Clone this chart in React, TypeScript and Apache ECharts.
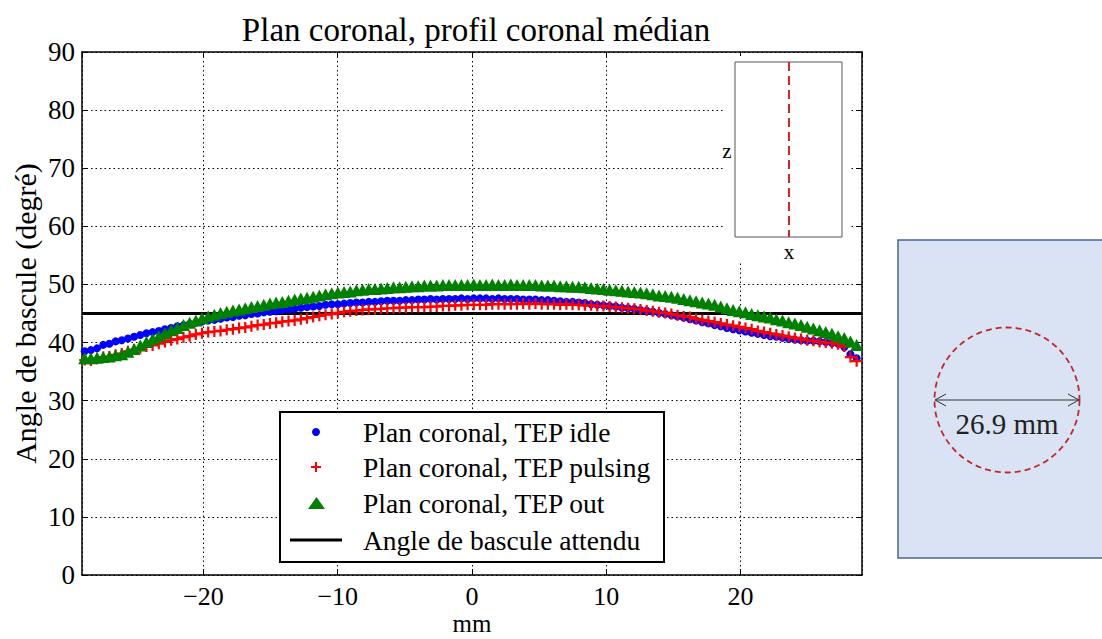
import React, { useEffect, useRef } from 'react';
import * as echarts from 'echarts';

const FONT = 'Liberation Serif, DejaVu Serif, serif';

// sample grid of the coronal profile (mm)
const sampleStart = -28.85;
const sampleStep = 0.46;

// flip angle (degrees)
const idle = [
  38.5, 38.7, 39.0, 39.6, 39.8,
  40.2, 40.4, 40.7, 41.0, 41.3,
  41.6, 41.8, 42.0, 42.3, 42.5,
  42.8, 43.0, 43.2, 43.4, 43.6,
  43.8, 43.9, 44.1, 44.3, 44.4,
  44.6, 44.7, 44.9, 45.0, 45.2,
  45.3, 45.4, 45.6, 45.7, 45.8,
  46.0, 46.1, 46.2, 46.3, 46.5,
  46.6, 46.6, 46.7, 46.8, 46.9,
  46.9, 47.0, 47.0, 47.1, 47.2,
  47.2, 47.2, 47.3, 47.3, 47.4,
  47.4, 47.5, 47.4, 47.5, 47.5,
  47.5, 47.6, 47.5, 47.6, 47.6,
  47.6, 47.5, 47.6, 47.5, 47.5,
  47.5, 47.4, 47.4, 47.4, 47.3,
  47.3, 47.2, 47.1, 47.0, 47.0,
  46.9, 46.8, 46.6, 46.5, 46.4,
  46.3, 46.2, 46.0, 45.9, 45.8,
  45.6, 45.5, 45.3, 45.1, 44.9,
  44.7, 44.5, 44.3, 44.0, 43.8,
  43.5, 43.3, 43.0, 42.8, 42.5,
  42.3, 42.1, 41.9, 41.7, 41.5,
  41.3, 41.1, 41.0, 40.8, 40.6,
  40.5, 40.4, 40.3, 40.3, 40.2,
  40.1, 39.9, 39.8, 39.2, 38.0, 37.3,
];

const pulsing = [
  37.0, 36.9, 37.2, 37.5, 37.6,
  37.9, 38.1, 38.5, 38.8, 39.0,
  39.3, 39.5, 39.8, 40.1, 40.4,
  40.6, 40.9, 41.1, 41.4, 41.6,
  41.8, 41.9, 42.0, 42.2, 42.3,
  42.5, 42.6, 42.8, 43.0, 43.1,
  43.3, 43.4, 43.6, 43.7, 43.8,
  44.0, 44.2, 44.4, 44.6, 44.8,
  44.9, 45.1, 45.3, 45.4, 45.5,
  45.6, 45.7, 45.7, 45.8, 45.9,
  45.9, 46.0, 46.0, 46.1, 46.1,
  46.1, 46.2, 46.2, 46.3, 46.3,
  46.4, 46.4, 46.5, 46.5, 46.5,
  46.5, 46.6, 46.6, 46.6, 46.6,
  46.6, 46.7, 46.6, 46.7, 46.6,
  46.6, 46.6, 46.5, 46.6, 46.5,
  46.5, 46.4, 46.4, 46.3, 46.3,
  46.2, 46.1, 46.0, 45.9, 45.8,
  45.7, 45.5, 45.4, 45.2, 45.1,
  44.9, 44.7, 44.5, 44.4, 44.1,
  43.9, 43.7, 43.5, 43.3, 43.1,
  42.9, 42.7, 42.5, 42.3, 42.0,
  41.8, 41.6, 41.4, 41.2, 41.0,
  40.8, 40.6, 40.4, 40.3, 40.1,
  40.0, 39.9, 39.7, 39.3, 37.5, 36.8,
];

const out = [
  37.3, 37.3, 37.4, 37.5, 37.6,
  37.8, 38.0, 38.4, 38.9, 39.5,
  40.1, 40.6, 41.1, 41.6, 42.1,
  42.5, 43.0, 43.4, 43.8, 44.2,
  44.5, 44.8, 45.1, 45.3, 45.5,
  45.7, 45.9, 46.1, 46.3, 46.5,
  46.7, 46.9, 47.0, 47.2, 47.4,
  47.6, 47.7, 47.9, 48.1, 48.3,
  48.5, 48.6, 48.7, 48.8, 49.0,
  49.1, 49.2, 49.2, 49.3, 49.4,
  49.5, 49.5, 49.6, 49.7, 49.7,
  49.8, 49.8, 49.8, 49.9, 49.9,
  49.9, 49.9, 49.9, 50.0, 49.9,
  49.9, 50.0, 49.9, 49.9, 50.0,
  49.9, 49.9, 49.9, 49.9, 49.8,
  49.8, 49.8, 49.7, 49.7, 49.6,
  49.6, 49.5, 49.4, 49.3, 49.2,
  49.1, 49.0, 48.9, 48.8, 48.7,
  48.6, 48.5, 48.3, 48.1, 48.0,
  47.9, 47.7, 47.5, 47.3, 47.1,
  46.9, 46.7, 46.5, 46.2, 45.9,
  45.6, 45.4, 45.2, 44.9, 44.7,
  44.5, 44.3, 44.0, 43.8, 43.5,
  43.3, 43.0, 42.7, 42.4, 42.1,
  41.8, 41.5, 41.1, 40.8, 40.2, 39.6,
];

const expectedAngle = 45;
const xMin = -29.05;
const xMax = 29.05;
const yMin = 0;
const yMax = 90;
const yInterval = 10;

const seriesNames = [
  'Plan coronal, TEP idle',
  'Plan coronal, TEP pulsing',
  'Plan coronal, TEP out',
  'Angle de bascule attendu',
];

const CROSS = 'path://M4,0H6V4H10V6H6V10H4V6H0V4H4Z';

const pair = (vals: number[]) => vals.map((v, i) => [sampleStart + i * sampleStep, v]);

const minus = (v: number) => (v < 0 ? '\u2212' + Math.abs(v) : String(v));

export default function App() {
  const ref = useRef<HTMLDivElement>(null);
  useEffect(() => {
    if (!ref.current) return;
    const chart = echarts.init(ref.current, undefined, { renderer: 'svg' });
    const lx = 280, ly = 412;
    const rows = [432, 467, 503, 540];
    const legendText = (t: string, y: number) => ({
      type: 'text', z: 21,
      style: { text: t, x: 363, y, fontFamily: FONT, fontSize: 27.5, fill: '#000', textAlign: 'left', textVerticalAlign: 'middle' },
    });
    const axisLineStyle = { color: '#000', width: 1.5 };
    const tickStyle = { show: true, inside: true, length: 6, lineStyle: { color: '#000', width: 1 } };
    const option: any = {
      animation: false,
      backgroundColor: '#fff',
      textStyle: { fontFamily: FONT },
      title: {
        text: 'Plan coronal, profil coronal médian',
        left: 471, top: 8, textAlign: 'center',
        textStyle: { fontFamily: FONT, fontWeight: 'normal', fontSize: 33, color: '#000' },
      },
      grid: { left: 82, top: 52, width: 780, height: 523, show: false, containLabel: false, outerBoundsMode: 'none' },
      xAxis: [
        {
          type: 'value', min: xMin, max: xMax,
          name: 'mm', nameLocation: 'middle', nameGap: 36, nameMoveOverlap: false,
          nameTextStyle: { fontFamily: FONT, fontSize: 25, color: '#000' },
          axisLine: { show: true, onZero: false, lineStyle: axisLineStyle },
          axisTick: tickStyle,
          axisLabel: { show: true, showMinLabel: false, showMaxLabel: false, margin: 8, formatter: minus,
            fontFamily: FONT, fontSize: 26, color: '#000' },
          splitLine: { show: true, lineStyle: { color: '#000', type: [1.5, 3], width: 1 } },
        },
        {
          type: 'value', min: xMin, max: xMax, position: 'top',
          axisLine: { show: true, onZero: false, lineStyle: axisLineStyle },
          axisTick: tickStyle,
          axisLabel: { show: false }, splitLine: { show: false },
        },
      ],
      yAxis: [
        {
          type: 'value', min: yMin, max: yMax, interval: yInterval,
          name: 'Angle de bascule (degré)', nameLocation: 'middle', nameGap: 42, nameMoveOverlap: false,
          nameTextStyle: { fontFamily: FONT, fontSize: 30, color: '#000' },
          axisLine: { show: true, onZero: false, lineStyle: axisLineStyle },
          axisTick: tickStyle,
          axisLabel: { margin: 7, fontFamily: FONT, fontSize: 27, color: '#000' },
          splitLine: { show: true, lineStyle: { color: '#000', type: [1.5, 3], width: 1 } },
        },
        {
          type: 'value', min: yMin, max: yMax, interval: yInterval, position: 'right',
          axisLine: { show: true, onZero: false, lineStyle: axisLineStyle },
          axisTick: tickStyle,
          axisLabel: { show: false }, splitLine: { show: false },
        },
      ],
      series: [
        {
          name: seriesNames[3], type: 'line', z: 2, symbol: 'none',
          data: [[xMin, expectedAngle], [xMax, expectedAngle]],
          lineStyle: { color: '#000', width: 3 },
        },
        {
          name: seriesNames[0], type: 'scatter', z: 3, symbol: 'circle', symbolSize: 8,
          data: pair(idle), itemStyle: { color: '#0000ff', opacity: 1 },
        },
        {
          name: seriesNames[1], type: 'scatter', z: 4, symbol: CROSS, symbolSize: 11,
          data: pair(pulsing), itemStyle: { color: '#ff0000', opacity: 1 },
        },
        {
          name: seriesNames[2], type: 'scatter', z: 5, symbol: 'triangle', symbolSize: [13, 12],
          data: pair(out), itemStyle: { color: '#008000', opacity: 1 },
        },
      ],
      graphic: [
        // legend
        { type: 'rect', z: 20, shape: { x: lx, y: ly, width: 384, height: 150 },
          style: { fill: '#fff', stroke: '#000', lineWidth: 2 } },
        { type: 'circle', z: 21, shape: { cx: 316, cy: rows[0], r: 4 }, style: { fill: '#0000ff' } },
        { type: 'polygon', z: 21, shape: { points: [[315, 462], [317, 462], [317, 466], [321, 466], [321, 468], [317, 468], [317, 472], [315, 472], [315, 468], [311, 468], [311, 466], [315, 466]] },
          style: { fill: '#ff0000' } },
        { type: 'polygon', z: 21, shape: { points: [[316.5, 497], [308, 509], [325, 509]] }, style: { fill: '#008000' } },
        { type: 'line', z: 21, shape: { x1: 290, y1: rows[3], x2: 342, y2: rows[3] }, style: { stroke: '#000', lineWidth: 3 } },
        legendText(seriesNames[0], rows[0]),
        legendText(seriesNames[1], rows[1]),
        legendText(seriesNames[2], rows[2]),
        legendText(seriesNames[3], rows[3]),
        // inset sketch
        { type: 'rect', z: 20, shape: { x: 723, y: 56, width: 128, height: 205 }, style: { fill: '#fff' } },
        { type: 'rect', z: 21, shape: { x: 735, y: 62, width: 107, height: 175 }, style: { fill: '#fff', stroke: '#555', lineWidth: 1 } },
        { type: 'line', z: 22, shape: { x1: 789, y1: 62, x2: 789, y2: 237 }, style: { stroke: '#d62728', lineWidth: 2, lineDash: [9, 5] } },
        { type: 'text', z: 22, style: { text: 'z', x: 727, y: 151, fontFamily: FONT, fontSize: 21, fill: '#000', textAlign: 'center', textVerticalAlign: 'middle' } },
        { type: 'text', z: 22, style: { text: 'x', x: 789, y: 252, fontFamily: FONT, fontSize: 21, fill: '#000', textAlign: 'center', textVerticalAlign: 'middle' } },
        // right panel
        { type: 'rect', z: 20, shape: { x: 898, y: 240, width: 220, height: 318 }, style: { fill: '#dae3f3', stroke: '#4a6593', lineWidth: 1.5 } },
        { type: 'circle', z: 21, shape: { cx: 1007, cy: 400, r: 72.5 }, style: { fill: 'none', stroke: '#c0282d', lineWidth: 1.8, lineDash: [6, 4] } },
        { type: 'line', z: 22, shape: { x1: 935, y1: 400, x2: 1079, y2: 400 }, style: { stroke: '#333', lineWidth: 1 } },
        { type: 'polyline', z: 22, shape: { points: [[946, 394], [935, 400], [946, 406]] }, style: { stroke: '#333', lineWidth: 1, fill: 'none' } },
        { type: 'polyline', z: 22, shape: { points: [[1068, 394], [1079, 400], [1068, 406]] }, style: { stroke: '#333', lineWidth: 1, fill: 'none' } },
        { type: 'text', z: 22, style: { text: '26.9 mm', x: 1007, y: 424, fontFamily: FONT, fontSize: 29, fill: '#222', textAlign: 'center', textVerticalAlign: 'middle' } },
      ],
    };
    chart.setOption(option);
    return () => chart.dispose();
  }, []);
  return (
    <div
      ref={ref}
      style={{ position: 'fixed', left: 0, top: 0, width: 1102, height: 639, background: '#fff' }}
    />
  );
}
